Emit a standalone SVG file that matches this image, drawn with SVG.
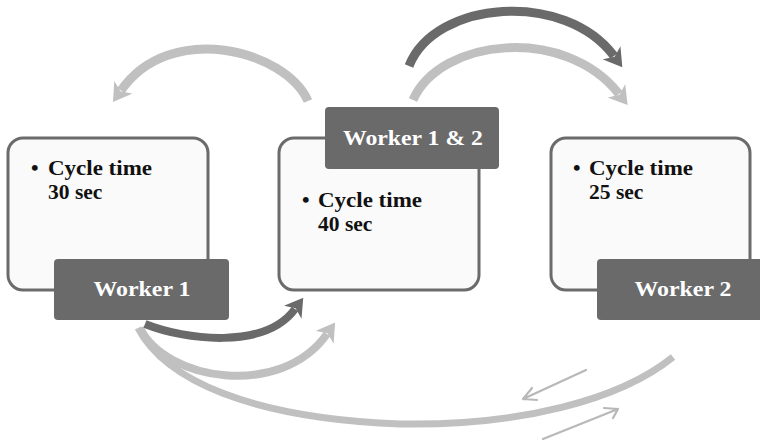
<svg xmlns="http://www.w3.org/2000/svg" width="760" height="443" viewBox="0 0 760 443">
<defs>
<style>
.box{fill:#fafafa;stroke:#6b6b6b;stroke-width:3}
.lbl{fill:#6a6a6a}
.lt{font-family:"Liberation Serif","DejaVu Serif",serif;font-weight:bold;font-size:22px;fill:#ffffff;text-anchor:middle}
.bt{font-family:"Liberation Serif","DejaVu Serif",serif;font-weight:bold;font-size:21.5px;fill:#111111}
.dark{fill:none;stroke:#6a6a6a;stroke-width:9}
.light{fill:none;stroke:#c0c0c0;stroke-width:9}
.thin{fill:none;stroke:#b8b8b8;stroke-width:2.2;stroke-linecap:round;stroke-linejoin:round}
</style>
<marker id="hd" viewBox="0 -11 18 22" refX="4" refY="0" markerWidth="18" markerHeight="22" markerUnits="userSpaceOnUse" orient="auto">
<path d="M0,-11 L18,0 L0,11 L5,0 z" fill="#6a6a6a"/>
</marker>
<marker id="hl" viewBox="0 -11 18 22" refX="4" refY="0" markerWidth="18" markerHeight="22" markerUnits="userSpaceOnUse" orient="auto">
<path d="M0,-11 L18,0 L0,11 L5,0 z" fill="#c0c0c0"/>
</marker>
</defs>
<rect width="760" height="443" fill="#ffffff"/>
<g id="connectors">
<path class="light" d="M308,101 C285,50 170,20 121,90.5" marker-end="url(#hl)"/>
<path class="dark" d="M409,66 C435,0 565,-10 614,56" marker-end="url(#hd)"/>
<path class="light" d="M413,100 C440,38 565,25 619,94" marker-end="url(#hl)"/>
<path class="light" style="stroke-width:7" d="M138,328 C165,380 250,418 400,424 C520,426 620,400 673,357"/>
<path class="light" style="stroke-width:8" d="M140,328 C165,380 280,400 327,334" marker-end="url(#hl)"/>
<path class="dark" style="stroke-width:8" d="M145,324 C185,340 265,350 295,309" marker-end="url(#hd)"/>
<path class="thin" d="M586,370 L523,399 M532,388 L523,399 L537,400"/>
<path class="thin" d="M543,439 L618,409 M604,408 L618,409 L613,418"/>
</g>
<g id="station1">
<rect class="box" x="8" y="138" width="200" height="152" rx="15"/>
<text class="bt" x="31" y="175">•<tspan x="48" y="175" textLength="104" lengthAdjust="spacingAndGlyphs">Cycle time</tspan></text>
<text class="bt" x="48" y="199">30 sec</text>
</g>
<g id="station2">
<rect class="box" x="279" y="138" width="200" height="152" rx="15"/>
<text class="bt" x="302" y="207">•<tspan x="318" y="207" textLength="104" lengthAdjust="spacingAndGlyphs">Cycle time</tspan></text>
<text class="bt" x="318" y="231">40 sec</text>
</g>
<g id="station3">
<rect class="box" x="551" y="138" width="199" height="152" rx="15"/>
<text class="bt" x="573" y="175">•<tspan x="589" y="175" textLength="104" lengthAdjust="spacingAndGlyphs">Cycle time</tspan></text>
<text class="bt" x="589" y="199">25 sec</text>
</g>
<g id="worker1">
<rect class="lbl" x="54" y="259" width="175" height="61" rx="4"/>
<text class="lt" x="142" y="296" textLength="97" lengthAdjust="spacingAndGlyphs">Worker 1</text>
</g>
<g id="worker12">
<rect class="lbl" x="325" y="107" width="174" height="62" rx="4"/>
<text class="lt" x="413" y="145" textLength="140" lengthAdjust="spacingAndGlyphs">Worker 1 &amp; 2</text>
</g>
<g id="worker2">
<rect class="lbl" x="597" y="259" width="173" height="61" rx="4"/>
<text class="lt" x="683" y="296" textLength="97" lengthAdjust="spacingAndGlyphs">Worker 2</text>
</g>
</svg>
